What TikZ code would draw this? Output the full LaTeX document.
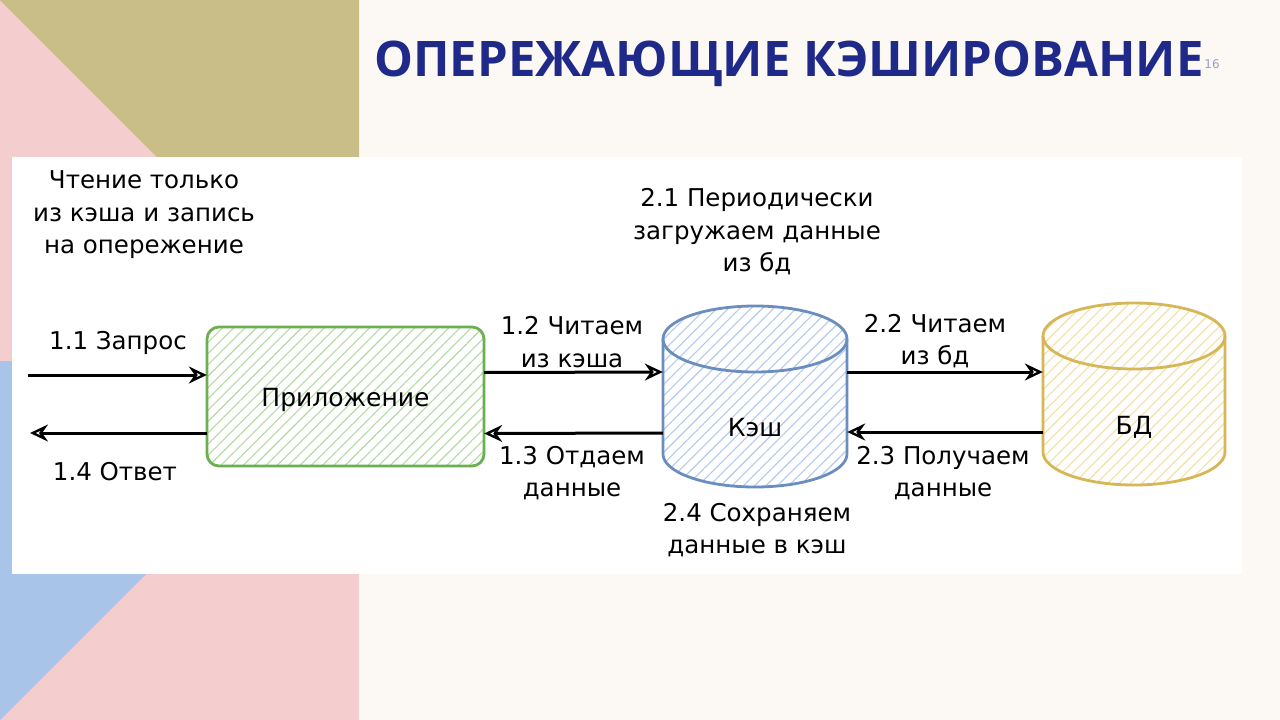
\documentclass[tikz,border=0pt]{standalone}
\usepackage{fontspec}
\setmainfont{DejaVu Sans}
\newfontfamily\titlefont{Open Sans}
\usetikzlibrary{arrows.meta,patterns.meta,calc}
\definecolor{bgcream}{RGB}{252,249,244}
\definecolor{pinkbg}{RGB}{244,205,207}
\definecolor{olivebg}{RGB}{202,190,136}
\definecolor{bluebg}{RGB}{168,196,232}
\definecolor{titleblue}{RGB}{31,41,138}
\definecolor{greenline}{RGB}{108,175,80}
\definecolor{greenhatch}{RGB}{180,218,164}
\definecolor{blueline}{RGB}{108,142,191}
\definecolor{bluehatch}{RGB}{178,202,238}
\definecolor{goldline}{RGB}{214,182,86}
\definecolor{goldhatch}{RGB}{242,224,164}
\tikzset{
  x=1pt, y=-1pt,
  lbl/.style={align=center, font=\fontsize{24.5}{32.5}\selectfont, text=black, inner sep=0pt},
  nodetext/.style={font=\fontsize{25}{30}\selectfont, text=black},
  arr/.style={line width=3pt, draw=black, -{Stealth[open, length=18pt, width=17pt, inset=6pt, line width=2.4pt]}},
  boxshape/.style={inner sep=0pt, draw=none},
  hatch/.style={pattern={Lines[angle=45,distance=8pt,line width=1.1pt]}, pattern color=#1},
}
\begin{document}
\begin{tikzpicture}
\useasboundingbox (0,0) rectangle (1280,720);
% background
\fill[bgcream] (0,0) rectangle (1280,720);
\fill[pinkbg] (0,0) rectangle (359,720);
\fill[olivebg] (0,0) -- (359,0) -- (359,359) -- cycle;
\fill[bluebg] (0,361) -- (359,361) -- (0,720) -- cycle;
% title
\node[font=\fontsize{12}{12}\selectfont, text={rgb,255:red,150;green,160;blue,195}] (pagenum) at (1212,64) {16};
\node[font=\titlefont\bfseries\fontsize{49}{54}\selectfont, text=titleblue, inner sep=0pt] (title) at (789,64) {ОПЕРЕЖАЮЩИЕ КЭШИРОВАНИЕ};
% white panel
\fill[white] (12,157) rectangle (1242,574);

% App box
\node[boxshape, minimum width=277pt, minimum height=139pt] (app) at (345.5,396.5) {};
\path[hatch=greenhatch, draw=greenline, line width=2.8pt, rounded corners=12pt]
  (207,327) rectangle (484,466);
\node[nodetext] (apptext) at (345.5,400) {Приложение};

% Cache cylinder
\node[boxshape, minimum width=184pt, minimum height=182pt] (cache) at (755,396) {};
\path[hatch=bluehatch]
  (663,339) -- (663,454) arc[start angle=180, end angle=360, x radius=92pt, y radius=33pt]
  -- (847,339) arc[start angle=0, end angle=180, x radius=92pt, y radius=33pt] -- cycle;
\draw[blueline, line width=2.8pt] (663,339) -- (663,454) arc[start angle=180, end angle=360, x radius=92pt, y radius=33pt] -- (847,339);
\draw[blueline, line width=2.8pt] (755,339) ellipse[x radius=92pt, y radius=33pt];
\node[nodetext] (cachetext) at (755,428) {Кэш};

% DB cylinder
\node[boxshape, minimum width=182pt, minimum height=182pt] (db) at (1134,394) {};
\path[hatch=goldhatch]
  (1043,336) -- (1043,452) arc[start angle=180, end angle=360, x radius=91pt, y radius=33pt]
  -- (1225,336) arc[start angle=0, end angle=180, x radius=91pt, y radius=33pt] -- cycle;
\draw[goldline, line width=2.8pt] (1043,336) -- (1043,452) arc[start angle=180, end angle=360, x radius=91pt, y radius=33pt] -- (1225,336);
\draw[goldline, line width=2.8pt] (1134,336) ellipse[x radius=91pt, y radius=33pt];
\node[nodetext] (dbtext) at (1134,427) {БД};

% free ends
\coordinate (inL) at (28,375);
\coordinate (outL) at (30,433);

% arrows
\draw[arr] (inL) -- (inL -| app.west);
\draw[arr] (outL -| app.west) -- (outL);
\draw[arr] ($(app.east)+(0,-24)$) -- ($(cache.west)+(0,-24)$);
\draw[arr] ($(cache.west)+(0,37)$) -- ($(app.east)+(0,37)$);
\draw[arr] ($(cache.east)+(0,-24)$) -- ($(db.west)+(0,-22)$);
\draw[arr] ($(db.west)+(0,38)$) -- ($(cache.east)+(0,36)$);

% labels
\node[lbl] (note) at (144,215) {Чтение только\\из кэша и запись\\на опережение};
\node[lbl] (note21) at (757,232) {2.1 Периодически\\загружаем данные\\из бд};
\node[lbl] (l11) at (118,343) {1.1 Запрос};
\node[lbl] (l14) at (115,472) {1.4 Ответ};
\node[lbl] (l12) at (572,342) {1.2 Читаем\\из кэша};
\node[lbl] (l13) at (572,473) {1.3 Отдаем\\данные};
\node[lbl] (l22) at (935,341) {2.2 Читаем\\из бд};
\node[lbl] (l23) at (943,473) {2.3 Получаем\\данные};
\node[lbl] (l24) at (757,530) {2.4 Сохраняем\\данные в кэш};
\end{tikzpicture}
\end{document}
